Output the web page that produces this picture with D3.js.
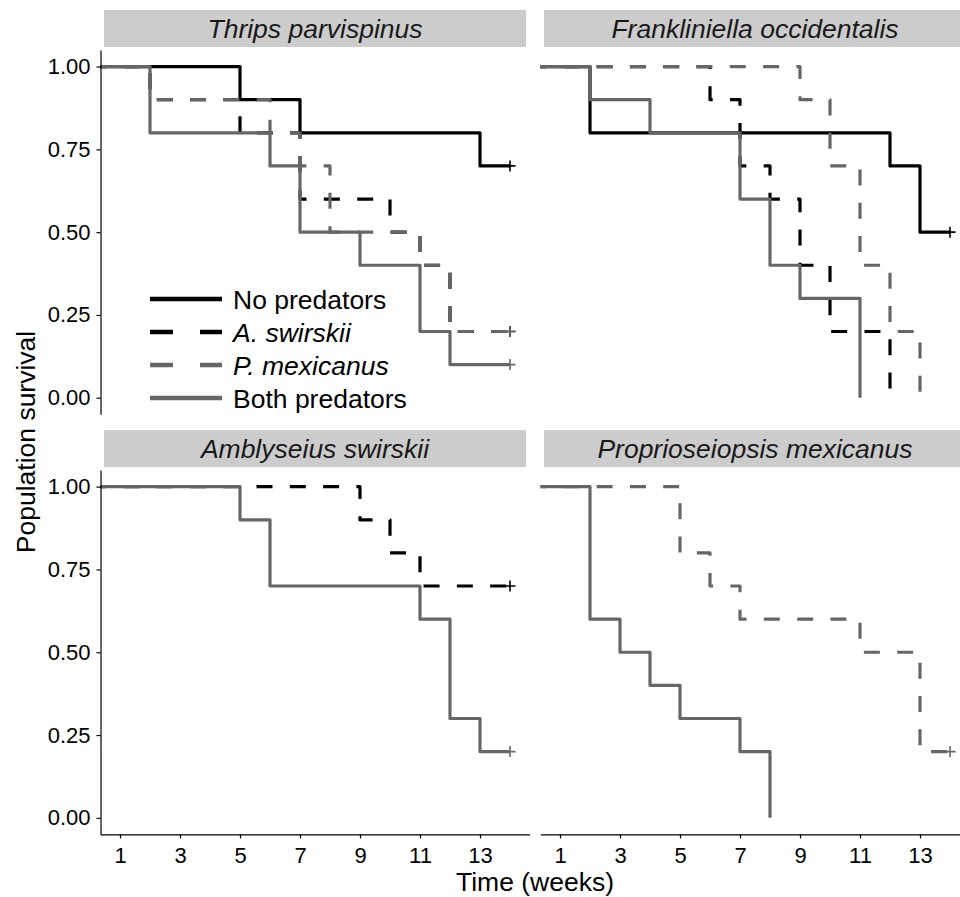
<!DOCTYPE html>
<html><head><meta charset="utf-8">
<script src="https://cdn.jsdelivr.net/npm/d3@7"></script>
<style>
body{margin:0;background:#fff;}
svg text{font-family:"Liberation Sans",Arial,Helvetica,sans-serif;}
</style></head><body>
<svg id="chart" width="960" height="897"></svg>
<script>
// Facet titles and treatment groups
const panelTitles = ["Thrips parvispinus", "Frankliniella occidentalis", "Amblyseius swirskii", "Proprioseiopsis mexicanus"];
const treatments = ["No predators", "A. swirskii", "P. mexicanus", "Both predators"];
const treatmentColor = ["#000000", "#000000", "#666666", "#666666"];
const treatmentDashed = [false, true, true, false];
const treatmentItalic = [false, true, true, false];
const weekTicks = [1, 3, 5, 7, 9, 11, 13];
const survivalTicks = [0, 0.25, 0.5, 0.75, 1];

// Kaplan-Meier steps: week of each drop and survival after it
// Thrips parvispinus
const tpNoneTime = [0, 5, 7, 13],            tpNoneSurv = [1, 0.9, 0.8, 0.7];
const tpAswTime  = [0, 2, 5, 7, 10, 11, 12], tpAswSurv  = [1, 0.9, 0.8, 0.6, 0.5, 0.4, 0.2];
const tpPmxTime  = [0, 2, 6, 7, 8, 11, 12],  tpPmxSurv  = [1, 0.9, 0.8, 0.7, 0.5, 0.4, 0.2];
const tpBothTime = [0, 2, 6, 7, 9, 11, 12],  tpBothSurv = [1, 0.8, 0.7, 0.5, 0.4, 0.2, 0.1];
// Frankliniella occidentalis
const foNoneTime = [0, 2, 12, 13],           foNoneSurv = [1, 0.8, 0.7, 0.5];
const foAswTime  = [0, 6, 7, 8, 9, 10, 12],  foAswSurv  = [1, 0.9, 0.7, 0.6, 0.4, 0.2, 0];
const foPmxTime  = [0, 9, 10, 11, 12, 13],   foPmxSurv  = [1, 0.9, 0.7, 0.4, 0.2, 0];
const foBothTime = [0, 2, 4, 7, 8, 9, 11],   foBothSurv = [1, 0.9, 0.8, 0.6, 0.4, 0.3, 0];
// Amblyseius swirskii
const asAswTime  = [0, 9, 10, 11],           asAswSurv  = [1, 0.9, 0.8, 0.7];
const asBothTime = [0, 5, 6, 11, 12, 13],    asBothSurv = [1, 0.9, 0.7, 0.6, 0.3, 0.2];
// Proprioseiopsis mexicanus
const pmPmxTime  = [0, 5, 6, 7, 11, 13],     pmPmxSurv  = [1, 0.8, 0.7, 0.6, 0.5, 0.2];
const pmBothTime = [0, 2, 3, 4, 5, 7, 8],    pmBothSurv = [1, 0.6, 0.5, 0.4, 0.3, 0.2, 0];

const studyEnd = 14;

// panel, treatment, times, survival; a curve still above zero is censored at the end of the study
const curves = [
  [0, 0, tpNoneTime, tpNoneSurv], [0, 1, tpAswTime, tpAswSurv], [0, 2, tpPmxTime, tpPmxSurv], [0, 3, tpBothTime, tpBothSurv],
  [1, 0, foNoneTime, foNoneSurv], [1, 1, foAswTime, foAswSurv], [1, 2, foPmxTime, foPmxSurv], [1, 3, foBothTime, foBothSurv],
  [2, 1, asAswTime, asAswSurv], [2, 3, asBothTime, asBothSurv],
  [3, 2, pmPmxTime, pmPmxSurv], [3, 3, pmBothTime, pmBothSurv]
].map(([panel, trt, time, surv]) => {
  const last = surv[surv.length - 1];
  const censored = last > 0;
  const pts = time.map((t, i) => [t, surv[i]]);
  if (censored) pts.push([studyEnd, last]);
  return {panel, trt, pts, censored, last};
});

// Layout
const svg = d3.select("#chart");
const panelW = 429, panelH = 364.3;
const panelLeft = [100.5, 540.5];
const panelTop = [50, 470.1];

const x = d3.scaleLinear().domain([0.35, 14.65]).range([0, panelW]);
const y = d3.scaleLinear().domain([-0.05, 1.05]).range([panelH, 0]);

const line = d3.line().x(d => x(d[0])).y(d => y(d[1])).curve(d3.curveStepAfter);

const defs = svg.append("defs");

panelTitles.forEach((title, p) => {
  const col = p % 2, row = Math.floor(p / 2);
  const g = svg.append("g").attr("transform", `translate(${panelLeft[col]},${panelTop[row]})`);

  // strip
  g.append("rect")
    .attr("x", 3.5).attr("y", -40).attr("width", panelW - 7).attr("height", 37)
    .attr("fill", "#cccccc");
  g.append("text")
    .attr("x", panelW / 2).attr("y", -12)
    .attr("text-anchor", "middle")
    .attr("font-size", "26.5px").attr("font-style", "italic").attr("fill", "#1a1a1a")
    .text(title);

  defs.append("clipPath").attr("id", "clip" + p)
    .append("rect").attr("width", panelW).attr("height", panelH);

  const plot = g.append("g").attr("clip-path", `url(#clip${p})`);
  curves.filter(c => c.panel === p).forEach(c => {
    plot.append("path")
      .attr("d", line(c.pts))
      .attr("fill", "none")
      .attr("stroke", treatmentColor[c.trt])
      .attr("stroke-width", 3.2)
      .attr("stroke-linejoin", "round")
      .attr("stroke-linecap", "butt")
      .attr("stroke-dasharray", treatmentDashed[c.trt] ? "16,17.3" : null);
    if (c.censored) {
      const cx = x(studyEnd), cy = y(c.last);
      plot.append("path")
        .attr("d", `M${cx - 5.5},${cy}H${cx + 5.5}M${cx},${cy - 5.5}V${cy + 5.5}`)
        .attr("stroke", treatmentColor[c.trt])
        .attr("stroke-width", 1.6)
        .attr("fill", "none");
    }
  });

  // axes
  if (col === 0) {
    const ay = g.append("g").call(
      d3.axisLeft(y).tickValues(survivalTicks).tickFormat(d3.format(".2f"))
        .tickSize(4).tickSizeOuter(0).tickPadding(6));
    ay.select(".domain").attr("stroke-width", 1.2);
    ay.selectAll(".tick line").attr("stroke-width", 1.2);
    ay.selectAll("text").attr("font-size", "22px").attr("fill", "#000")
      .attr("font-family", "Liberation Sans, Arial, sans-serif");
  }
  if (row === 1) {
    const ax = g.append("g").attr("transform", `translate(0,${panelH})`).call(
      d3.axisBottom(x).tickValues(weekTicks).tickSize(4).tickSizeOuter(0).tickPadding(9));
    ax.select(".domain").attr("stroke-width", 1.2);
    ax.selectAll(".tick line").attr("stroke-width", 1.2);
    ax.selectAll("text").attr("font-size", "22px").attr("fill", "#000")
      .attr("font-family", "Liberation Sans, Arial, sans-serif");
  }

  // legend inside the first panel
  if (p === 0) {
    const lg = g.append("g");
    treatments.forEach((name, i) => {
      const cy = 249 + i * 33;
      lg.append("line")
        .attr("x1", 49.5).attr("x2", 121.5).attr("y1", cy).attr("y2", cy)
        .attr("stroke", treatmentColor[i]).attr("stroke-width", 4.4)
        .attr("stroke-dasharray", treatmentDashed[i] ? "23,27" : null);
      lg.append("text")
        .attr("x", 132.5).attr("y", cy + 9.5)
        .attr("font-size", "26.5px")
        .attr("font-style", treatmentItalic[i] ? "italic" : "normal")
        .attr("fill", "#000")
        .text(name);
    });
  }
});

// axis titles
svg.append("text")
  .attr("x", 535).attr("y", 891)
  .attr("text-anchor", "middle").attr("font-size", "26.5px").attr("fill", "#000")
  .text("Time (weeks)");
svg.append("text")
  .attr("transform", "translate(35,442) rotate(-90)")
  .attr("text-anchor", "middle").attr("font-size", "26.5px").attr("fill", "#000")
  .text("Population survival");
</script>
</body></html>
